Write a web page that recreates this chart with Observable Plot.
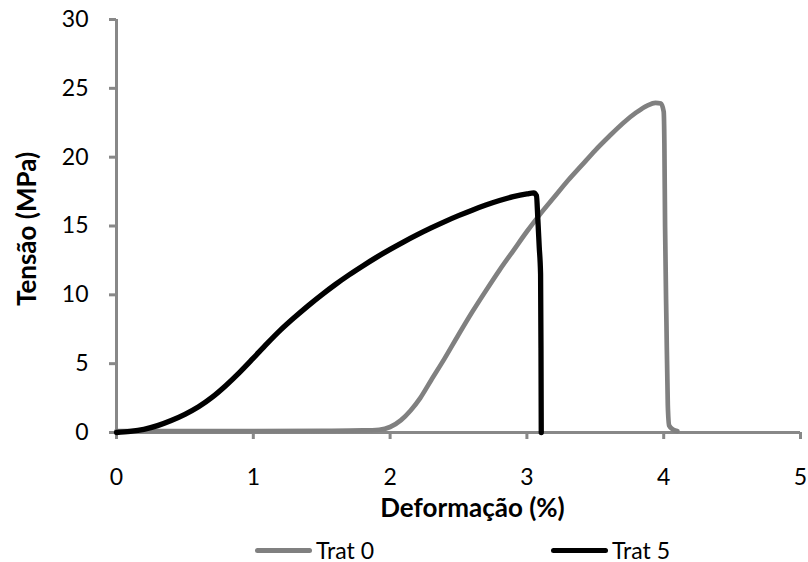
<!DOCTYPE html>
<html>
<head>
<meta charset="utf-8">
<script src="https://cdn.jsdelivr.net/npm/d3@7"></script>
<script src="https://cdn.jsdelivr.net/npm/@observablehq/plot@0.6"></script>
<style>
  body { margin: 0; background: #fff; }
  #wrap { position: relative; width: 808px; height: 562px; overflow: hidden; font-family: Lato, "Open Sans", sans-serif; color: #000; }
  #legend { position: absolute; left: 0; top: 538px; width: 808px; height: 24px; }
  .item { position: absolute; top: 0; height: 24px; line-height: 1; display: flex; align-items: center; font-size: 23px; }
  .sw { display: inline-block; width: 57px; height: 5px; border-radius: 3px; margin-right: 4px; }
</style>
</head>
<body>
<div id="wrap">
  <div id="chart"></div>
  <div id="legend">
    <div class="item" style="left:255px"><span class="sw" style="background:#808080"></span>Trat 0</div>
    <div class="item" style="left:551px"><span class="sw" style="background:#000"></span>Trat 5</div>
  </div>
</div>
<script>
const xTicks = [0, 1, 2, 3, 4, 5];
const yTicks = [0, 5, 10, 15, 20, 25, 30];

const trat0X = [0, 0.5, 1.0, 1.5, 1.8, 1.92, 2.0, 2.08, 2.15, 2.22, 2.3, 2.4, 2.5, 2.6, 2.7, 2.8, 2.9, 3.0, 3.1, 3.2, 3.3, 3.4, 3.5, 3.6, 3.7, 3.8, 3.88, 3.94, 3.98, 4.0, 4.005, 4.01, 4.02, 4.03, 4.04, 4.07, 4.1];
const trat0Y = [0.1, 0.1, 0.1, 0.12, 0.15, 0.2, 0.4, 0.9, 1.6, 2.5, 3.8, 5.4, 7.1, 8.75, 10.3, 11.8, 13.2, 14.6, 15.9, 17.1, 18.3, 19.4, 20.5, 21.5, 22.45, 23.25, 23.75, 23.95, 23.9, 23.3, 21, 15, 8, 2, 0.5, 0.2, 0.1];

const trat5X = [0, 0.1, 0.2, 0.3, 0.4, 0.5, 0.6, 0.7, 0.8, 0.9, 1.0, 1.1, 1.2, 1.3, 1.4, 1.5, 1.6, 1.7, 1.8, 1.9, 2.0, 2.1, 2.2, 2.3, 2.4, 2.5, 2.6, 2.7, 2.8, 2.9, 3.0, 3.05, 3.07, 3.08, 3.09, 3.1, 3.103, 3.105];
const trat5Y = [0, 0.08, 0.23, 0.5, 0.87, 1.32, 1.87, 2.57, 3.42, 4.37, 5.4, 6.45, 7.45, 8.35, 9.2, 10.0, 10.75, 11.45, 12.1, 12.72, 13.3, 13.85, 14.37, 14.86, 15.32, 15.75, 16.15, 16.52, 16.85, 17.13, 17.33, 17.4, 17.2, 15.5, 13.5, 11.5, 6, 0];

const t0 = trat0X.map((x, i) => ({x, y: trat0Y[i]}));
const t5 = trat5X.map((x, i) => ({x, y: trat5Y[i]}));

const axisGray = "#888888";
const font = 'Lato, "Open Sans", sans-serif';

const chart = Plot.plot({
  width: 808,
  height: 537,
  marginLeft: 116,
  marginRight: 8,
  marginTop: 19,
  marginBottom: 105,
  style: { fontFamily: font, fontSize: "23px", color: "#000", background: "#fff", overflow: "visible" },
  x: { domain: [0, 5] },
  y: { domain: [0, 30] },
  marks: [
    Plot.ruleY([0], { stroke: axisGray, strokeWidth: 3 }),
    Plot.ruleX([0], { stroke: axisGray, strokeWidth: 3 }),
    Plot.axisX({ ticks: xTicks, tickSize: 7, tickPadding: 29, stroke: axisGray, strokeWidth: 3, fill: "#000", fontSize: 23, label: null, tickFormat: d => String(d) }),
    Plot.axisY({ ticks: yTicks, tickSize: 7, tickPadding: 21, stroke: axisGray, strokeWidth: 3, fill: "#000", fontSize: 23, label: null, tickFormat: d => String(d) }),
    Plot.line(t0, { x: "x", y: "y", stroke: "#808080", strokeWidth: 4.7, curve: "monotone-x", strokeLinejoin: "round", strokeLinecap: "round" }),
    Plot.line(t5, { x: "x", y: "y", stroke: "#000", strokeWidth: 5.3, curve: "monotone-x", strokeLinejoin: "round", strokeLinecap: "round" }),
    Plot.text(["Deformação (%)"], { frameAnchor: "bottom", lineAnchor: "bottom", textAnchor: "middle", dx: 14, dy: 84, fontWeight: "bold", fontSize: 26, fill: "#000" }),
    Plot.text(["Tensão (MPa)"], { frameAnchor: "left", lineAnchor: "middle", textAnchor: "middle", dx: -89, dy: 3, rotate: -90, fontWeight: "bold", fontSize: 26, fill: "#000" })
  ]
});
document.getElementById("chart").appendChild(chart);
</script>
</body>
</html>
